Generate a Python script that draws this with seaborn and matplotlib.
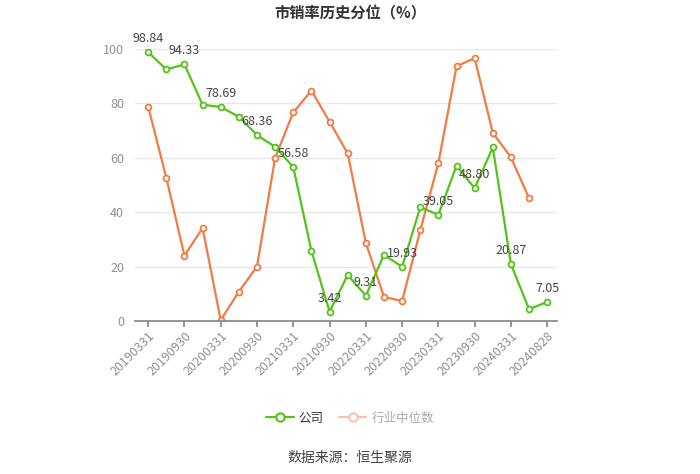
import numpy as np
import pandas as pd
import matplotlib
matplotlib.use("Agg")
import matplotlib.pyplot as plt
import seaborn as sns

dates = ["20190331", "20190630", "20190930", "20191231", "20200331", "20200630",
         "20200930", "20201231", "20210331", "20210630", "20210930", "20211231",
         "20220331", "20220630", "20220930", "20221231", "20230331", "20230630",
         "20230930", "20231231", "20240331", "20240630", "20240828"]
company = [98.84, 92.5, 94.33, 79.5, 78.69, 75.1, 68.36, 64.0, 56.58, 25.8, 3.42, 16.9,
           9.31, 24.3, 19.93, 41.8, 39.05, 57.1, 48.80, 63.8, 20.87, 4.3, 7.05]
industry = [78.8, 52.7, 24.0, 34.2, 0.3, 10.8, 20.0, 60.0, 76.7, 84.7, 73.3, 61.6,
            28.7, 8.9, 7.3, 33.3, 58.1, 93.6, 96.7, 69.1, 60.2, 45.1, np.nan]
labeled_idx = [0, 2, 4, 6, 8, 10, 12, 14, 16, 18, 20, 22]

sns.set_theme(style="white")
plt.rcParams['font.family'] = ['Noto Sans CJK SC', 'DejaVu Sans']

GREEN = "#52c41a"
ORANGE = "#f47a45"

df = pd.DataFrame({"x": np.arange(len(dates)), "公司": company, "行业中位数": industry})

fig = plt.figure(figsize=(7, 4.74), dpi=100)
ax = fig.add_axes([0.193, 0.3228, 0.603, 0.5738])

for col, color in [("行业中位数", ORANGE), ("公司", GREEN)]:
    sns.lineplot(data=df, x="x", y=col, ax=ax, color=color, linewidth=1.6,
                 marker="o", markersize=4.2, markerfacecolor="white",
                 markeredgecolor=color, markeredgewidth=1.3, legend=False)

for i in labeled_idx:
    ax.annotate(f"{company[i]:.2f}", (i, company[i]), xytext=(0, 5),
                textcoords="offset points", ha="center", va="bottom",
                fontsize=9, color="#444444")

ax.set_xlim(-0.72, 22.55)
ax.set_ylim(0, 100)
ax.set_yticks([0, 20, 40, 60, 80, 100])
ax.set_yticklabels(["0", "20", "40", "60", "80", "100"], color="#909090", fontsize=9)
ax.set_xticks(labeled_idx)
ax.set_xticklabels([dates[i] for i in labeled_idx], rotation=45, ha="right",
                   rotation_mode="anchor", color="#909090", fontsize=9)
ax.set_xlabel("")
ax.set_ylabel("")
ax.grid(axis="y", color="#e8e8e8", linewidth=1)
for s in ["top", "right", "left"]:
    ax.spines[s].set_visible(False)
ax.spines["bottom"].set_color("#888888")
ax.tick_params(axis="x", which="major", length=4, color="#888888", direction="out",
               bottom=True, pad=2)
ax.tick_params(axis="y", length=0, pad=8)

fig.text(0.5, 0.988, "市销率历史分位（%）", ha="center", va="top", fontsize=11,
         fontweight="bold", color="#333333")

# legend
from matplotlib.lines import Line2D
handles = [Line2D([], [], color=GREEN, linewidth=1.6, marker="o", markersize=6,
                  markerfacecolor="white", markeredgecolor=GREEN, markeredgewidth=1.5),
           Line2D([], [], color="#f7c4ab", linewidth=1.6, marker="o", markersize=6,
                  markerfacecolor="white", markeredgecolor="#f7c4ab", markeredgewidth=1.5)]
leg = fig.legend(handles, ["公司", "行业中位数"], loc="center", bbox_to_anchor=(0.5, 0.118),
                 ncol=2, frameon=False, fontsize=9, handlelength=2.2, columnspacing=1.2,
                 handletextpad=0.4)
leg.get_texts()[0].set_color("#333333")
leg.get_texts()[1].set_color("#aaaaaa")

fig.text(0.5, 0.033, "数据来源：恒生聚源", ha="center", va="center", fontsize=10, color="#444444")

fig.savefig("out.png", dpi=100)
